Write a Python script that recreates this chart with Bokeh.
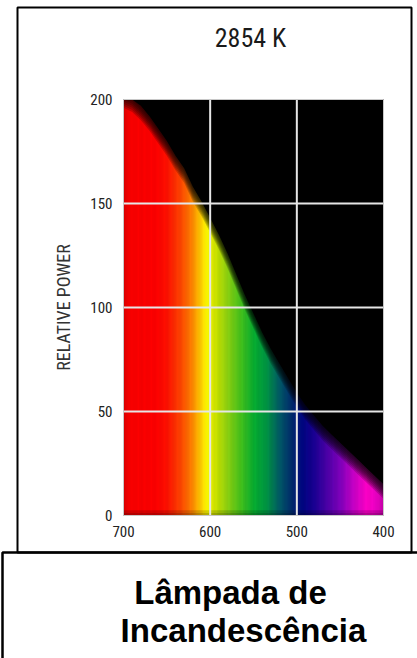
import numpy as np
from bokeh.plotting import figure
from bokeh.models import Range1d, FixedTicker
from bokeh.core.properties import value
from bokeh.models import ColumnDataSource
from bokeh.embed import file_html
from bokeh.resources import INLINE

# ---- data -------------------------------------------------------------
title_text = "2854 K"
y_label = "RELATIVE POWER"
caption_lines = ["Lâmpada de", "Incandescência"]
x_ticks = [700, 600, 500, 400]
y_ticks = [0, 50, 100, 150, 200]
x_grid = [600, 500]
y_grid = [50, 100, 150]

wavelength = [700, 690, 680, 670, 660, 650, 640, 630, 620, 610,
              600, 590, 580, 570, 560, 550, 540, 530, 520, 510,
              500, 490, 480, 470, 460, 450, 440, 430, 420, 410, 400]
power = [200, 198, 194, 189, 183, 177, 170, 164, 155, 148,
         140, 132, 123, 113, 103, 94, 85, 77, 70, 63,
         56, 50, 45, 40, 36, 32, 28, 24, 20, 16, 12]

# spectrum colour stops (style only)
stop_wl = [400, 410, 420, 435, 450, 465, 480, 495, 505, 520, 535, 550, 565,
           580, 595, 604, 612, 622, 635, 650, 665, 695, 700]
stop_rgb = [(200, 0, 170), (240, 0, 200), (255, 0, 200), (200, 0, 200), (130, 0, 190),
            (80, 0, 170), (30, 0, 150), (0, 10, 130), (0, 40, 110), (0, 90, 105),
            (0, 150, 70), (10, 175, 50), (70, 195, 30), (140, 210, 20), (210, 230, 0),
            (255, 255, 0), (255, 200, 0), (255, 130, 0), (255, 70, 0), (255, 20, 0),
            (255, 0, 0), (250, 0, 0), (215, 0, 0)]

# ---- layout helpers (canvas pixel -> data units) -----------------------
W, H = 417, 658
PX_NM = 260 / 300.0      # pixels per nm
PX_U = 416 / 200.0       # pixels per power unit
def X(px):
    return 700 - (px - 123) / PX_NM
def Y(py):
    return (515 - py) / PX_U

p = figure(width=W, height=H, output_backend="svg", toolbar_location=None, title=None,
           x_range=Range1d(X(0), X(W)), y_range=Range1d(Y(H), Y(0)),
           min_border=0, min_border_left=0, min_border_right=0,
           min_border_top=0, min_border_bottom=0)
p.background_fill_color = "white"
p.border_fill_color = "white"
p.outline_line_color = None
p.xgrid.visible = False
p.ygrid.visible = False

x0, x1 = x_ticks[0], x_ticks[-1]
y0, y1 = y_ticks[0], y_ticks[-1]

# plot area background
p.quad(left=[x0], right=[x1], bottom=[y0], top=[y1], fill_color="black", line_color=None)

# spectrum strip (kept inside the plot area)
fine = np.arange(400.7, 699.5, 1.0)
sw = np.array(stop_wl, dtype=float)
sr = np.array(stop_rgb, dtype=float)
cols = []
for w in fine:
    r = np.interp(w, sw, sr[:, 0]); g = np.interp(w, sw, sr[:, 1]); b = np.interp(w, sw, sr[:, 2])
    cols.append("#%02x%02x%02x" % (int(r), int(g), int(b)))
strip = ColumnDataSource(dict(x=fine, c=cols))
p.vbar(x="x", width=1.2, bottom=y0 + 0.2, top=y1 - 0.2, fill_color="c", line_color="c",
       line_width=0.6, source=strip)

# black mask above the power curve, with a soft edge
for d in [-4, -3, -2, -1, 0, 1, 2]:
    p.varea(x=wavelength, y1=[min(v + d, y1) for v in power], y2=y1,
            fill_color="black", fill_alpha=0.2)
p.varea(x=wavelength, y1=[min(v + 3, y1) for v in power], y2=y1, fill_color="black", fill_alpha=1.0)
# slight darkening at the base
p.varea(x=wavelength, y1=y0, y2=2.5, fill_color="black", fill_alpha=0.15)
p.varea(x=wavelength, y1=y0, y2=1.2, fill_color="black", fill_alpha=0.15)

# grid lines
p.segment(x0=x_grid, x1=x_grid, y0=[y0] * len(x_grid), y1=[y1] * len(x_grid),
          line_color="#e6e6e6", line_width=2)
p.segment(x0=[x0] * len(y_grid), x1=[x1] * len(y_grid), y0=y_grid, y1=y_grid,
          line_color="#e6e6e6", line_width=2)
# plot-area outline
p.quad(left=[x0], right=[x1], bottom=[y0], top=[y1], fill_color=None,
       line_color="#c8c8c8", line_width=1)

# axes (drawn at fixed data locations)
tick_font = "Roboto Condensed, DejaVu Sans Condensed, Roboto"
for ax in (p.xaxis, p.yaxis):
    ax.axis_line_color = None
    ax.major_tick_line_color = None
    ax.minor_tick_line_color = None
    ax.major_tick_out = 0
    ax.major_tick_in = 0
    ax.minor_tick_out = 0
    ax.minor_tick_in = 0
    ax.major_label_text_font = tick_font
    ax.major_label_text_font_size = "15px"
    ax.major_label_text_color = "#222222"
p.xaxis.ticker = FixedTicker(ticks=x_ticks)
p.yaxis.ticker = FixedTicker(ticks=y_ticks)
p.xaxis.fixed_location = y0
p.yaxis.fixed_location = x0
p.xaxis.bounds = (x1, x0)
p.yaxis.bounds = (y0, y1)
p.xaxis.major_label_standoff = 10
p.yaxis.major_label_standoff = 11
p.yaxis.axis_label = y_label
p.yaxis.axis_label_text_font = tick_font
p.yaxis.axis_label_text_font_size = "18px"
p.yaxis.axis_label_text_font_style = "normal"
p.yaxis.axis_label_text_color = "#333333"
p.yaxis.axis_label_standoff = 13

# title
p.text(x=[X(250)], y=[Y(37.5)], text=[title_text], text_align="center",
       text_baseline="middle", text_font=value(tick_font), text_font_size="26px",
       text_color="#1a1a1a")

# frames
p.quad(left=[X(17)], right=[X(411)], top=[Y(7)], bottom=[Y(552)], fill_color=None,
       line_color="black", line_width=2)
p.quad(left=[X(2)], right=[X(450)], top=[Y(552)], bottom=[Y(690)], fill_color=None,
       line_color="black", line_width=2.5)

# caption
p.text(x=[X(230)], y=[Y(592)], text=[caption_lines[0]], text_align="center",
       text_baseline="alphabetic", text_font=value("Liberation Sans"),
       text_font_style="bold", text_font_size="33px", text_color="black")
p.text(x=[X(243)], y=[Y(630)], text=[caption_lines[1]], text_align="center",
       text_baseline="alphabetic", text_font=value("Liberation Sans"),
       text_font_style="bold", text_font_size="33px", text_color="black")

open("out.html", "w").write(file_html(p, INLINE))
